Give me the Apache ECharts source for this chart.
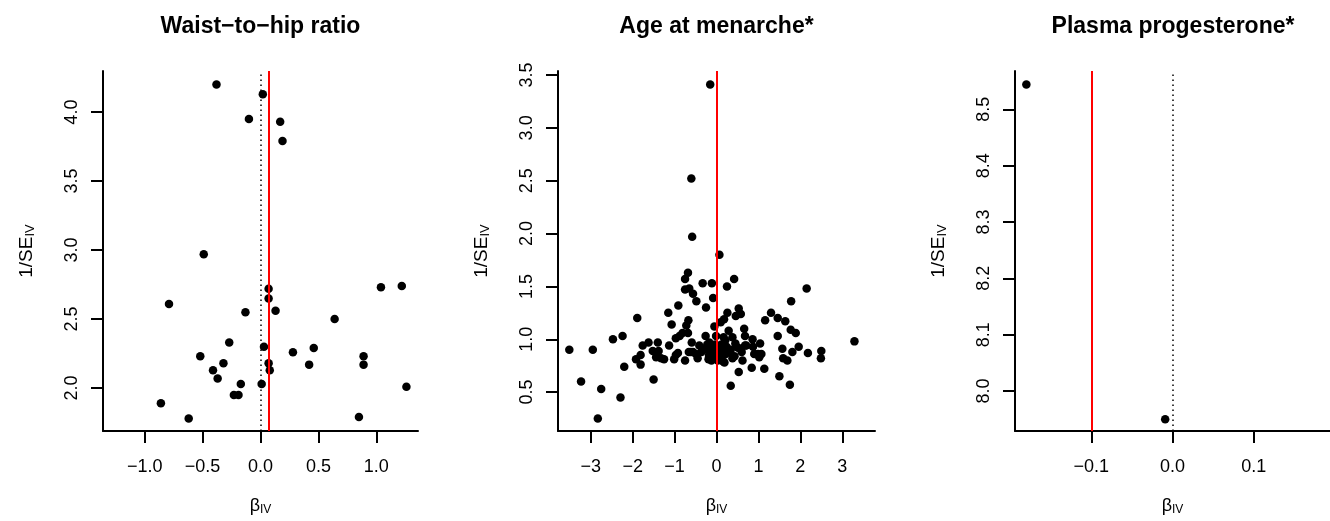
<!DOCTYPE html>
<html>
<head>
<meta charset="utf-8">
<script src="https://cdn.jsdelivr.net/npm/echarts@6/dist/echarts.min.js"></script>
<style>
  html, body { margin: 0; padding: 0; background: #fff; }
  #chart { width: 1330px; height: 521px; }
</style>
</head>
<body>
<div id="chart"></div>
<script>
// panel titles
const titles = ['Waist\u2212to\u2212hip ratio', 'Age at menarche*', 'Plasma progesterone*'];

// panel 1: waist-to-hip ratio  [beta_IV, 1/SE_IV]
const whrPoints = [
  [-0.38, 4.20], [0.02, 4.13], [-0.10, 3.95], [0.17, 3.93], [0.19, 3.79],
  [-0.49, 2.97], [-0.79, 2.61], [0.07, 2.72], [0.07, 2.65], [0.13, 2.56],
  [-0.13, 2.55], [1.04, 2.73], [1.22, 2.74], [0.64, 2.50], [-0.27, 2.33],
  [-0.52, 2.23], [0.03, 2.30], [0.28, 2.26], [0.46, 2.29], [0.89, 2.23],
  [0.89, 2.17], [0.42, 2.17], [0.07, 2.18], [0.08, 2.13], [-0.32, 2.18],
  [-0.41, 2.13], [-0.37, 2.07], [-0.17, 2.03], [0.01, 2.03], [-0.23, 1.95],
  [-0.19, 1.95], [1.26, 2.01], [-0.86, 1.89], [-0.62, 1.78], [0.85, 1.79]
];
const whrEstimate = 0.072;

// panel 2: age at menarche
const menarchePoints = [
  [-0.15, 3.41], [-0.60, 2.52], [-0.58, 1.97], [0.07, 1.80],
  [-0.68, 1.63], [-0.75, 1.57], [0.42, 1.57], [-0.33, 1.53], [-0.11, 1.53],
  [0.25, 1.50], [-0.65, 1.48], [-0.75, 1.47], [2.15, 1.48], [-0.56, 1.43],
  [-0.08, 1.39], [-0.48, 1.36], [1.78, 1.36], [-0.91, 1.32], [-0.25, 1.30],
  [0.53, 1.29], [-1.15, 1.25], [0.26, 1.25], [0.58, 1.24], [1.30, 1.25],
  [0.46, 1.22], [1.46, 1.20], [0.18, 1.19], [1.16, 1.18], [-1.89, 1.20],
  [1.64, 1.17], [-0.67, 1.18], [-0.72, 1.13], [-1.07, 1.14], [0.10, 1.16],
  [-0.05, 1.12], [1.77, 1.09], [0.66, 1.10], [1.89, 1.06], [0.29, 1.08],
  [-0.68, 1.06], [-0.81, 1.06],
  [-0.88, 1.03], [-0.97, 1.01], [-2.47, 1.00], [-2.24, 1.03], [-0.26, 1.03],
  [-0.01, 1.03], [0.38, 1.02], [0.17, 1.02], [0.68, 1.03], [0.86, 1.00],
  [1.46, 1.03], [0.21, 0.99], [-0.59, 0.97], [-1.62, 0.97], [-1.40, 0.97],
  [3.29, 0.98], [1.04, 0.96], [0.45, 0.96], [-0.17, 0.97], [-1.76, 0.94],
  [-1.13, 0.94], [-0.41, 0.94], [0.68, 0.94], [0.87, 0.93], [1.96, 0.93],
  [0.06, 0.93], [-3.51, 0.90], [-2.95, 0.90], [2.50, 0.89], [2.18, 0.87],
  [1.57, 0.91], [1.81, 0.88], [2.49, 0.82], [1.69, 0.80], [1.59, 0.82],
  [-1.52, 0.89], [-1.38, 0.89], [-0.92, 0.87], [-1.81, 0.85], [-1.44, 0.83],
  [-1.32, 0.82], [-1.92, 0.81], [-1.81, 0.76], [-2.20, 0.74], [-1.25, 0.81],
  [-1.01, 0.81], [-0.97, 0.85], [-0.75, 0.80], [-0.61, 0.88], [-0.66, 0.88],
  [-0.56, 0.88], [-0.49, 0.86], [-0.36, 0.88], [-0.45, 0.82], [-0.33, 0.90],
  [-0.26, 0.91], [-0.19, 0.81], [-0.18, 0.85], [-0.10, 0.90], [-0.09, 0.88],
  [0.06, 0.88], [0.10, 0.83], [0.14, 0.88], [0.16, 0.79], [0.19, 0.78],
  [0.15, 0.91], [0.31, 0.88], [0.34, 0.90], [0.38, 0.82], [0.43, 0.84],
  [0.51, 0.92], [0.58, 0.91], [0.60, 0.88], [0.62, 0.80], [0.71, 0.94],
  [0.90, 0.86], [0.99, 0.86], [1.02, 0.83], [1.07, 0.86],
  [-0.03, 0.95], [0.02, 0.90], [-0.04, 0.84], [0.03, 0.80], [-0.12, 0.80],
  [0.22, 0.86], [0.24, 0.93], [-0.22, 0.95], [0.12, 0.95],
  [0.84, 0.73], [1.14, 0.72], [0.53, 0.69], [0.34, 0.56], [1.50, 0.65],
  [1.75, 0.57], [-1.50, 0.62], [-3.23, 0.60], [-2.75, 0.53], [-2.29, 0.45],
  [-2.83, 0.25]
];
const menarcheEstimate = 0.0;

// panel 3: plasma progesterone
const progesteronePoints = [[-0.180, 8.544], [-0.009, 7.950]];
const progesteroneEstimate = -0.1016;

// axis ranges and tick labels
const xRanges = [[-1.36, 1.36], [-3.78, 3.78], [-0.194, 0.194]];
const yRanges = [[1.689, 4.298], [0.132, 3.538], [7.929, 8.568]];
const xTicks = [[-1, -0.5, 0, 0.5, 1], [-3, -2, -1, 0, 1, 2, 3], [-0.1, 0, 0.1]];
const yTicks = [[2, 2.5, 3, 3.5, 4], [0.5, 1, 1.5, 2, 2.5, 3, 3.5], [8, 8.1, 8.2, 8.3, 8.4, 8.5]];
const xDecimals = [1, 0, 1];

const pointSets = [whrPoints, menarchePoints, progesteronePoints];
const estimates = [whrEstimate, menarcheEstimate, progesteroneEstimate];

const FONT = '"Liberation Sans", Arial, Helvetica, sans-serif';
const grids = [
  { left: 103, top: 71, width: 315, height: 361 },
  { left: 558, top: 71, width: 317, height: 361 },
  { left: 1015, top: 71, width: 316, height: 361 }
];

const fmt = (v, d) => (v < 0 ? '\u2212' : '') + Math.abs(v).toFixed(d);

const axisCommon = {
  axisLine: { show: true, onZero: false, lineStyle: { color: '#000', width: 2 } },
  axisTick: { show: true, length: 12, lineStyle: { color: '#000', width: 2 } },
  splitLine: { show: false },
  nameLocation: 'middle'
};

const chart = echarts.init(document.getElementById('chart'));

const xAxis = xRanges.map((r, i) => ({
  ...axisCommon,
  type: 'value',
  gridIndex: i,
  min: r[0],
  max: r[1],
  axisTick: { ...axisCommon.axisTick, customValues: xTicks[i] },
  axisLabel: {
    customValues: xTicks[i],
    formatter: v => fmt(v, xDecimals[i]),
    margin: 27, fontSize: 18, color: '#000', fontFamily: FONT
  },
  name: '{a|\u03b2}{b|IV}',
  nameGap: 65,
  nameTextStyle: {
    color: '#000', fontFamily: FONT,
    rich: {
      a: { fontSize: 18, fontFamily: FONT, color: '#000' },
      b: { fontSize: 12, fontFamily: FONT, color: '#000', verticalAlign: 'bottom', padding: [8, 0, 0, 0] }
    }
  }
}));

const yAxis = yRanges.map((r, i) => ({
  ...axisCommon,
  type: 'value',
  gridIndex: i,
  min: r[0],
  max: r[1],
  axisTick: { ...axisCommon.axisTick, customValues: yTicks[i] },
  axisLabel: {
    customValues: yTicks[i],
    formatter: v => v.toFixed(1),
    rotate: 90,
    margin: 22, fontSize: 18, color: '#000', fontFamily: FONT
  },
  name: '{a|1/SE}{b|IV}',
  nameGap: 66,
  nameTextStyle: {
    color: '#000', fontFamily: FONT,
    rich: {
      a: { fontSize: 19, fontFamily: FONT, color: '#000' },
      b: { fontSize: 13, fontFamily: FONT, color: '#000', verticalAlign: 'bottom', padding: [8, 0, 0, 0] }
    }
  }
}));

const series = [];
pointSets.forEach((pts, i) => {
  series.push({
    type: 'scatter',
    xAxisIndex: i,
    yAxisIndex: i,
    data: pts,
    symbol: 'circle',
    symbolSize: 8.5,
    itemStyle: { color: '#000', opacity: 1 },
    z: 2
  });
  // reference line at zero (dotted) and IVW estimate (red)
  series.push({
    type: 'line',
    xAxisIndex: i,
    yAxisIndex: i,
    data: [],
    z: 5,
    markLine: {
      silent: true,
      symbol: 'none',
      label: { show: false },
      animation: false,
      data: [
        { xAxis: 0, lineStyle: { color: '#000', width: 1.5, type: [1.5, 3.5] } },
        { xAxis: estimates[i], lineStyle: { color: '#ff0000', width: 2, type: 'solid' } }
      ]
    }
  });
});

const option = {
  animation: false,
  backgroundColor: '#fff',
  title: titles.map((t, i) => ({
    text: t,
    left: grids[i].left + grids[i].width / 2,
    top: 15,
    textAlign: 'center',
    padding: 0,
    textStyle: { fontSize: 23, fontWeight: 'bold', color: '#000', fontFamily: FONT }
  })),
  grid: grids,
  xAxis: xAxis,
  yAxis: yAxis,
  series: series
};

chart.setOption(option);
</script>
</body>
</html>
